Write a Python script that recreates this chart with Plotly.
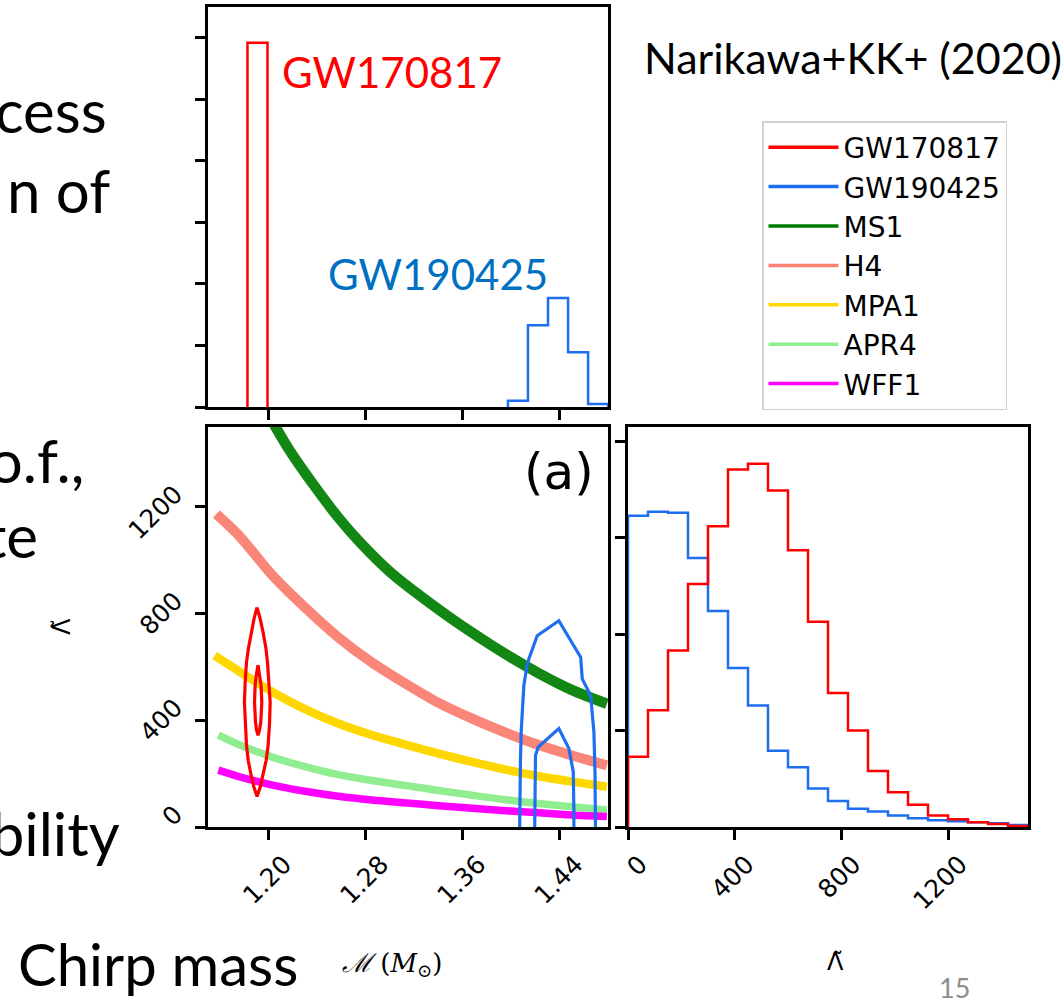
import plotly.graph_objects as go

# ---------------- data ----------------
# 1D chirp-mass histograms (arbitrary density units)
MC_EDGES_GW170817 = [1.1830, 1.1995]
MC_HIST_GW170817 = [5.92]
MC_EDGES_GW190425 = [1.3975, 1.4140, 1.4305, 1.4470, 1.4635, 1.4800]
MC_HIST_GW190425 = [0.10, 1.33, 1.77, 0.89, 0.05]

# 1D Lambda-tilde histograms
LAMBDA_EDGES = [0, 75, 150, 225, 300, 375, 450, 525, 600, 675, 750,
                825, 900, 975, 1050, 1125, 1200, 1275, 1350, 1425, 1500]
LAMBDA_HIST_GW170817 = [0.73, 1.21, 1.83, 2.52, 3.12, 3.71, 3.77, 3.49, 2.87, 2.13,
                        1.39, 1.00, 0.58, 0.36, 0.23, 0.12, 0.08, 0.05, 0.03, 0.01]
LAMBDA_HIST_GW190425 = [3.23, 3.27, 3.26, 2.79, 2.24, 1.65, 1.26, 0.79, 0.62, 0.40,
                        0.27, 0.19, 0.16, 0.12, 0.09, 0.07, 0.06, 0.05, 0.04, 0.02]

# EOS relations (chirp mass, Lambda-tilde)
MS1_M = [1.1980, 1.2061, 1.2193, 1.2386, 1.2578, 1.2771, 1.3019, 1.3405, 1.3680, 1.3955, 1.4230, 1.4504, 1.4790]
MS1_L = [1565, 1499, 1400, 1275, 1160, 1060, 950, 815, 728, 648, 576, 513, 462]
H4_M = [1.1574, 1.1752, 1.1890, 1.2028, 1.2303, 1.2578, 1.2854, 1.3140, 1.3405, 1.3680, 1.3955, 1.4230, 1.4504, 1.4790]
H4_L = [1173, 1096, 1022, 947, 823, 711, 617, 535, 465, 406, 354, 307, 268, 231]
MPA1_M = [1.1560, 1.1752, 1.2028, 1.2303, 1.2578, 1.2854, 1.3140, 1.3405, 1.3680, 1.3955, 1.4230, 1.4504, 1.4790]
MPA1_L = [642, 586, 508, 442, 388, 345, 308, 275, 244, 215, 190, 170, 151]
APR4_M = [1.1590, 1.1752, 1.2028, 1.2303, 1.2578, 1.2854, 1.3140, 1.3405, 1.3680, 1.3955, 1.4230, 1.4504, 1.4790]
APR4_L = [344, 310, 263, 226, 196, 174, 155, 137, 119, 102, 88, 76, 64]
WFF1_M = [1.1590, 1.1752, 1.2028, 1.2303, 1.2578, 1.2854, 1.3140, 1.3405, 1.3680, 1.3955, 1.4230, 1.4504, 1.4790]
WFF1_L = [213, 190, 158, 134, 115, 101, 90, 80, 70, 61, 53, 45, 39]

# 2D credible contours
GW170817_OUTER_M = [1.1909, 1.1935, 1.1959, 1.1982, 1.1995, 1.2009, 1.2017, 1.2012, 1.2000, 1.1984, 1.1959, 1.1935,
                    1.1909, 1.1883, 1.1860, 1.1836, 1.1822, 1.1810, 1.1805, 1.1811, 1.1822, 1.1838, 1.1860, 1.1884, 1.1909]
GW170817_OUTER_L = [823, 780, 729, 670, 617, 540, 468, 390, 306, 250, 194, 150,
                    114, 150, 194, 250, 306, 390, 468, 540, 617, 670, 729, 780, 823]
GW170817_INNER_M = [1.1917, 1.1932, 1.1942, 1.1948, 1.1940, 1.1930, 1.1917, 1.1904, 1.1896, 1.1888, 1.1893, 1.1903, 1.1917]
GW170817_INNER_L = [607, 570, 530, 468, 394, 365, 344, 365, 394, 468, 530, 570, 607]
GW190425_OUTER_M = [1.4070, 1.4072, 1.4078, 1.4084, 1.4094, 1.4106, 1.4130, 1.4147, 1.4216, 1.4394,
                    1.4574, 1.4580, 1.4587, 1.4656, 1.4672, 1.4683, 1.4692, 1.4697]
GW190425_OUTER_L = [-60, 100, 250, 356, 450, 530, 600, 630, 717, 773,
                    636, 590, 555, 493, 420, 356, 200, -60]
GW190425_INNER_M = [1.4194, 1.4196, 1.4202, 1.4225, 1.4270, 1.4394, 1.4477, 1.4513, 1.4518, 1.4518]
GW190425_INNER_L = [-60, 150, 269, 300, 319, 369, 294, 207, 60, -60]

MC_TICKS = [1.20, 1.28, 1.36, 1.44]
MC_TICKTEXT = ["1.20", "1.28", "1.36", "1.44"]
LAMBDA_TICKS = [0, 400, 800, 1200]
LAMBDA_TICKTEXT = ["0", "400", "800", "1200"]

RED = "#ff0000"
BLUE = "#1e6ef0"
EOS = [
    ("MS1", MS1_M, MS1_L, "#007d00", 10.5, 0.92),
    ("H4", H4_M, H4_L, "#fa8072", 10, 0.95),
    ("MPA1", MPA1_M, MPA1_L, "#ffd700", 8.5, 1.0),
    ("APR4", APR4_M, APR4_L, "#90ee90", 7.5, 1.0),
    ("WFF1", WFF1_M, WFF1_L, "#ff00ff", 7.5, 1.0),
]


def step_outline(edges, heights):
    xs, ys = [edges[0]], [0]
    for i, h in enumerate(heights):
        xs += [edges[i], edges[i + 1]]
        ys += [h, h]
    xs.append(edges[-1])
    ys.append(0)
    return xs, ys


fig = go.Figure()

for edges, hist, col in [(MC_EDGES_GW170817, MC_HIST_GW170817, RED),
                         (MC_EDGES_GW190425, MC_HIST_GW190425, BLUE)]:
    xs, ys = step_outline(edges, hist)
    fig.add_trace(go.Scatter(x=xs, y=ys, mode="lines", line=dict(color=col, width=2.5),
                             xaxis="x", yaxis="y", showlegend=False, hoverinfo="skip"))

for name, m, l, col, w, op in EOS:
    fig.add_trace(go.Scatter(x=m, y=l, mode="lines",
                             line=dict(color=col, width=w, shape="spline", smoothing=0.8),
                             opacity=op, xaxis="x2", yaxis="y2", showlegend=False, name=name))

for cm, cl, col in [(GW170817_OUTER_M, GW170817_OUTER_L, RED), (GW170817_INNER_M, GW170817_INNER_L, RED),
                    (GW190425_OUTER_M, GW190425_OUTER_L, BLUE), (GW190425_INNER_M, GW190425_INNER_L, BLUE)]:
    fig.add_trace(go.Scatter(x=cm, y=cl, mode="lines", line=dict(color=col, width=3.2),
                             xaxis="x2", yaxis="y2", showlegend=False, hoverinfo="skip"))

for hist, col in [(LAMBDA_HIST_GW190425, BLUE), (LAMBDA_HIST_GW170817, RED)]:
    xs, ys = step_outline(LAMBDA_EDGES, hist)
    fig.add_trace(go.Scatter(x=xs, y=ys, mode="lines", line=dict(color=col, width=2.5),
                             xaxis="x3", yaxis="y3", showlegend=False, hoverinfo="skip"))

for name, col in [("GW170817", RED), ("GW190425", BLUE)] + [(e[0], e[3]) for e in EOS]:
    fig.add_trace(go.Scatter(x=[None], y=[None], mode="lines", line=dict(color=col, width=3.5),
                             name=name, xaxis="x2", yaxis="y2"))

W, H = 1061, 998
def px(x): return x / W
def py(y): return 1 - y / H

frame = dict(showline=True, mirror=True, linecolor="black", linewidth=2.5, showgrid=False,
             zeroline=False, ticks="outside", ticklen=10, tickwidth=2.5, tickcolor="black",
             automargin=False)
tickfont = dict(family="DejaVu Sans", size=25, color="black")

fig.update_layout(
    width=W, height=H, margin=dict(l=0, r=0, t=0, b=0, pad=0, autoexpand=False),
    autosize=False,
    paper_bgcolor="white", plot_bgcolor="white",
    xaxis=dict(domain=[px(208), px(608)], range=[1.1505, 1.4799], anchor="y",
               tickvals=MC_TICKS, showticklabels=False, **frame),
    yaxis=dict(domain=[py(407), py(7)], range=[0, 6.5], anchor="x",
               tickvals=[0, 1, 2, 3, 4, 5, 6], showticklabels=False, **frame),
    xaxis2=dict(domain=[px(208), px(608)], range=[1.1505, 1.4799], anchor="y2",
                tickvals=MC_TICKS, ticktext=MC_TICKTEXT, tickangle=-45, tickfont=tickfont,
                ticklabelshift=16, **frame),
    yaxis2=dict(domain=[py(827), py(427)], range=[0, 1499], anchor="x2",
                tickvals=LAMBDA_TICKS, ticktext=LAMBDA_TICKTEXT, tickangle=-45, tickfont=tickfont,
                ticklabelshift=-16, ticklabelstandoff=15, **frame),
    xaxis3=dict(domain=[px(628), px(1028)], range=[0, 1500], anchor="y3",
                tickvals=LAMBDA_TICKS, ticktext=LAMBDA_TICKTEXT, tickangle=-45, tickfont=tickfont,
                ticklabelshift=12, **frame),
    yaxis3=dict(domain=[py(827), py(427)], range=[0, 4.15], anchor="x3",
                tickvals=[0, 1, 2, 3, 4], showticklabels=False, **frame),
    legend=dict(x=px(762), y=py(121), xanchor="left", yanchor="top",
                bgcolor="white", bordercolor="#d0d0d0", borderwidth=1.5,
                font=dict(family="DejaVu Sans", size=28, color="black"),
                itemwidth=70, traceorder="normal"),
    showlegend=True,
)

slide_font = "Lato"
ann = []
def A(text, x, y, size, color="black", family=slide_font, xanchor="left", yanchor="middle", angle=0):
    ann.append(dict(text=text, x=px(x), y=py(y), xref="paper", yref="paper", showarrow=False,
                    xanchor=xanchor, yanchor=yanchor, textangle=angle,
                    font=dict(family=family, size=size, color=color)))

A("cess", 109, 110, 60, xanchor="right")
A("n of", 112, 190, 60, xanchor="right")
A("d.o.f.,", 86, 460, 60, xanchor="right")
A("te", 40, 535, 60, xanchor="right")
A("probability", 122, 833, 60, xanchor="right")
A("Chirp mass", 16, 963, 58)
A("15", 937, 987, 27, color="#8c8c8c")
A("Narikawa+KK+ (2020)", 642, 58, 43)
A("GW170817", 280, 72, 42, color=RED)
A("GW190425", 326, 274, 42, color="#0070c0")
A("(a)", 596, 472, 50, family="DejaVu Sans", xanchor="right")
A("<i>ℳ</i> (<i>M</i><sub>⊙</sub>)", 392, 964, 26, family="DejaVu Serif", xanchor="center")
A("Λ̃", 835, 962, 24, family="DejaVu Sans", xanchor="center")
A("Λ̃", 62, 627, 24, family="DejaVu Sans", xanchor="center", angle=-90)

fig.update_layout(annotations=ann)
fig.write_html("out.html")
